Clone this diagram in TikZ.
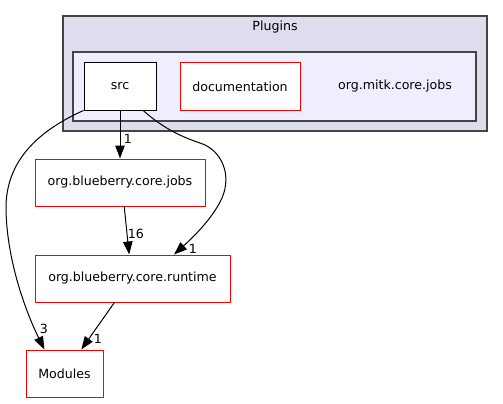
\documentclass[tikz,border=0pt]{standalone}
\usepackage{xcolor}
\usepackage{fontspec}
\setmainfont{DejaVu Sans}
\usetikzlibrary{arrows.meta}
\definecolor{clusterout}{HTML}{DDDDEE}
\definecolor{clusterin}{HTML}{EEEEFF}
\definecolor{clusterline}{HTML}{444444}
\begin{document}
\begin{tikzpicture}[x=1pt,y=-1pt,font=\fontsize{12.6}{15}\selectfont,
  dir/.style={draw=red,fill=white,line width=1pt,inner sep=0pt,minimum height=47pt},
  srcdir/.style={dir,draw=black},
  dep/.style={-{Triangle[length=13pt,width=9.5pt]},line width=1pt},
  num/.style={inner sep=1pt,fill=none}]
\useasboundingbox (0,0) rectangle (503,404);
\draw[clusterline,fill=clusterout,line width=1.2pt] (63,16) rectangle (487,131);
\node (plugins) at (275,27) {Plugins};
\draw[clusterline,fill=clusterin,line width=1.2pt] (73,52) rectangle (476,121);
\node (mitkjobs) at (395,86.5) {org.mitk.core.jobs};
\node[srcdir,minimum width=72pt] (src) at (120,86.5) {src};
\node[dir,minimum width=120pt] (doc) at (240,86.5) {documentation};
\node[dir,minimum width=170pt] (bjobs) at (120,182.5) {org.blueberry.core.jobs};
\node[dir,minimum width=195pt] (runtime) at (132.5,278.5) {org.blueberry.core.runtime};
\node[dir,minimum width=77pt] (modules) at (64.5,373.5) {Modules};
\draw[dep] (src.south) -- (bjobs.north);
\node[num] (l1) at (128,139) {1};
\draw[dep] (bjobs.-80) -- (runtime.98);
\node[num] (l2) at (136,234) {16};
\draw[dep] (src.-46) .. controls (165,130) and (185,138) .. (200,143)
  .. controls (222,150) and (232,175) .. (222,198)
  .. controls (212,220) and (190,240) .. (runtime.30);
\node[num] (l3) at (193,249) {1};
\draw[dep] (src.south west) .. controls (40,130) and (5,160) .. (6,210)
  .. controls (7,260) and (25,310) .. (modules.130);
\node[num] (l4) at (44,329) {3};
\draw[dep] (runtime.233) -- (modules.55);
\node[num] (l5) at (98,339) {1};
\end{tikzpicture}
\end{document}
